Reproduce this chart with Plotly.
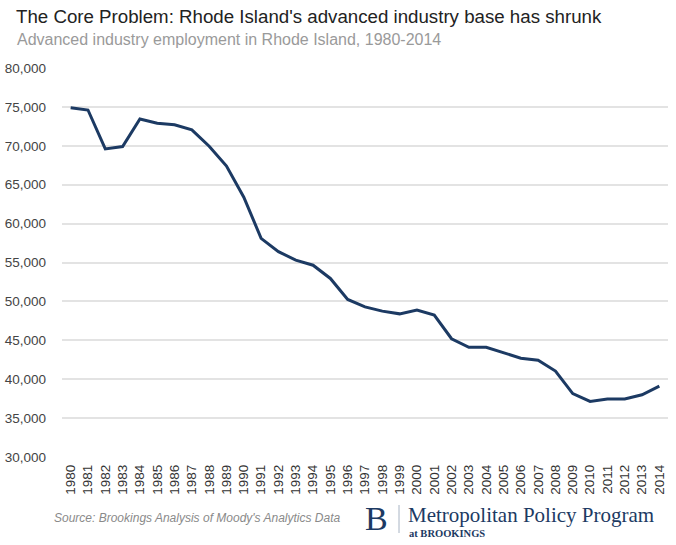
import plotly.graph_objects as go

years = [str(y) for y in range(1980, 2015)]
employment = [74900, 74600, 69600, 69900, 73450, 72900, 72700, 72050, 69950, 67400,
              63400, 58100, 56400, 55300, 54650, 52950, 50250, 49300, 48750, 48400,
              48900, 48250, 45200, 44100, 44100, 43450, 42700, 42450, 41050, 38150,
              37150, 37450, 37450, 38000, 39100]
y_ticks = [30000, 35000, 40000, 45000, 50000, 55000, 60000, 65000, 70000, 75000, 80000]

title = "The Core Problem: Rhode Island's advanced industry base has shrunk"
subtitle = "Advanced industry employment in Rhode Island, 1980-2014"
source = "Source: Brookings Analysis of Moody's Analytics Data"

W, H = 676, 545
L, R, T, B = 62, 8, 68, 88
PW, PH = W - L - R, H - T - B


def px(x):
    return (x - L) / PW


def py(y):
    return (H - B - y) / PH


NAVY = "#1c3a63"

fig = go.Figure()
fig.add_trace(go.Scatter(x=years, y=employment, mode="lines",
                         line=dict(color=NAVY, width=3), hoverinfo="x+y"))

fig.update_layout(
    width=W, height=H,
    margin=dict(l=L, r=R, t=T, b=B),
    paper_bgcolor="white", plot_bgcolor="white",
    showlegend=False,
    font=dict(family="Liberation Sans, Arial, sans-serif", color="#444"),
    xaxis=dict(type="category", range=[-0.5, len(years) - 0.5], tickangle=-90,
               showgrid=False, zeroline=False,
               showline=False, ticks="", automargin=False, ticklabelstandoff=4,
               tickfont=dict(size=13.5, color="#333")),
    yaxis=dict(range=[30000, 80000], tickvals=y_ticks, tickformat=",d",
               showgrid=True, gridcolor="#e3e3e3", gridwidth=1.5, zeroline=False,
               showline=False, ticks="", ticklabelstandoff=15, automargin=False,
               tickfont=dict(size=13.5, color="#444")),
)

fig.add_annotation(text=title, xref="paper", yref="paper", x=px(14), y=py(16),
                   xanchor="left", yanchor="middle", showarrow=False,
                   font=dict(size=18.7, color="#222"))
fig.add_annotation(text=subtitle, xref="paper", yref="paper", x=px(15), y=py(40),
                   xanchor="left", yanchor="middle", showarrow=False,
                   font=dict(size=16, color="#9a9a9a"))
fig.add_annotation(text="<i>" + source + "</i>", xref="paper", yref="paper",
                   x=px(52), y=py(518), xanchor="left", yanchor="middle",
                   showarrow=False, font=dict(size=12, color="#8a8a8a"))
fig.add_annotation(text="B", xref="paper", yref="paper", x=px(363), y=py(518),
                   xanchor="left", yanchor="middle", showarrow=False,
                   font=dict(family="Liberation Serif, serif", size=34, color=NAVY))
fig.add_annotation(text="Metropolitan Policy Program", xref="paper", yref="paper",
                   x=px(406), y=py(515), xanchor="left", yanchor="middle", showarrow=False,
                   font=dict(family="Liberation Serif, serif", size=21, color=NAVY))
fig.add_annotation(text="<b>at BROOKINGS</b>", xref="paper", yref="paper",
                   x=px(407), y=py(533), xanchor="left", yanchor="middle", showarrow=False,
                   font=dict(family="Liberation Serif, serif", size=10.5, color=NAVY))
fig.add_shape(type="line", xref="paper", yref="paper", x0=px(399), x1=px(399),
              y0=py(505), y1=py(533), line=dict(color="#a8b4c4", width=1))

fig.write_html("out.html", config={"displayModeBar": False},
               post_script="document.body.style.margin='0';document.body.style.overflow='hidden';")
